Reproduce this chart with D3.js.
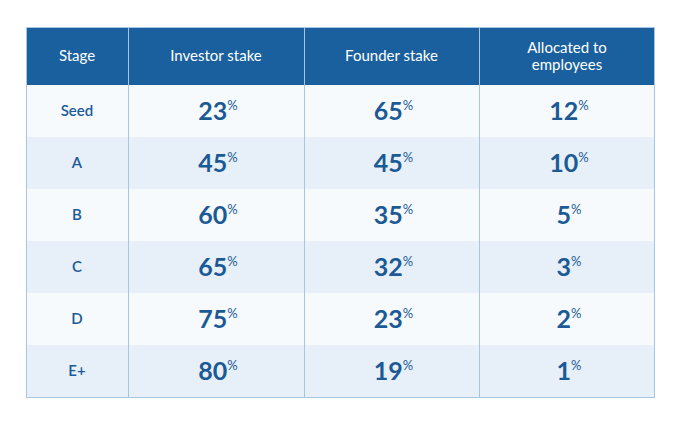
<!DOCTYPE html>
<html><head><meta charset="utf-8">
<script src="https://cdn.jsdelivr.net/npm/d3@7"></script>
<style>body{margin:0;background:#fff}</style>
</head><body>
<svg id="c" width="680" height="425"></svg>
<script>
const columns = ['Stage', 'Investor stake', 'Founder stake', 'Allocated to\nemployees'];
const stages = ['Seed', 'A', 'B', 'C', 'D', 'E+'];
const investor = [23, 45, 60, 65, 75, 80];
const founder = [65, 45, 35, 32, 23, 19];
const employees = [12, 10, 5, 3, 2, 1];

const svg = d3.select('#c');
const font = 'Lato, "Open Sans", sans-serif';
const textColor = '#1b5a95';
const colEdges = [26, 128, 304, 479, 655];
const x = i => colEdges[i];
const cx = i => (colEdges[i] + colEdges[i + 1]) / 2;
const headTop = 27, headBottom = 85;
const y = d3.scaleBand().domain(stages).range([headBottom, 397]);

svg.append('rect').attr('x', 26).attr('y', headTop).attr('width', 629).attr('height', headBottom - headTop).attr('fill', '#1a5f9e');

svg.selectAll('rect.row').data(stages).join('rect').attr('class', 'row')
  .attr('x', 26).attr('y', d => y(d)).attr('width', 629).attr('height', y.bandwidth())
  .attr('fill', (d, i) => i % 2 ? '#e7f0f8' : '#f7fafd');

columns.forEach((c, i) => {
  const lines = c.split('\n');
  const t = svg.append('text').attr('x', cx(i)).attr('text-anchor', 'middle')
    .attr('fill', '#fff').attr('font-family', font).attr('font-size', 15);
  lines.forEach((l, j) => t.append('tspan').attr('x', cx(i))
    .attr('y', (headTop + headBottom) / 2 + 5 + (j - (lines.length - 1) / 2) * 17).text(l));
});

svg.selectAll('text.stage').data(stages).join('text').attr('class', 'stage')
  .attr('x', cx(0)).attr('y', d => y(d) + y.bandwidth() / 2 + 5)
  .attr('text-anchor', 'middle').attr('fill', textColor).attr('font-family', font)
  .attr('font-size', 15).attr('font-weight', 600).text(d => d);

[investor, founder, employees].forEach((vals, k) => {
  const t = svg.selectAll('text.v' + k).data(vals).join('text').attr('class', 'v' + k)
    .attr('x', cx(k + 1) + 2).attr('y', (d, i) => y(stages[i]) + y.bandwidth() / 2 + 9)
    .attr('text-anchor', 'middle').attr('fill', textColor).attr('font-family', font)
    .attr('font-weight', 700).attr('font-size', 25);
  t.append('tspan').text(d => d);
  t.append('tspan').attr('font-size', 13).attr('font-weight', 400).attr('dy', -10).text('%');
});

const grid = svg.append('g').attr('stroke', '#a9c6df').attr('stroke-width', 1).attr('fill', 'none');
grid.append('rect').attr('x', 26.5).attr('y', headTop + 0.5).attr('width', 628).attr('height', 397 - headTop);
[1, 2, 3].forEach(i => {
  grid.append('line').attr('x1', x(i) + 0.5).attr('x2', x(i) + 0.5).attr('y1', headTop).attr('y2', 397)
    .attr('stroke', '#a9c6df');
});
</script>
</body></html>
